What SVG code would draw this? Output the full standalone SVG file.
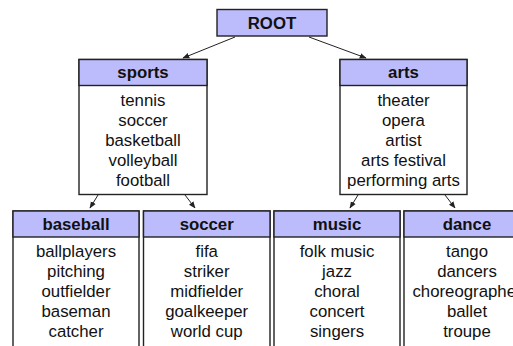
<svg xmlns="http://www.w3.org/2000/svg" width="513" height="346" viewBox="0 0 513 346">
<defs>
<style>
.box{fill:#fff;stroke:#222;stroke-width:1.4}
.hd{fill:#bcbcfc;stroke:#222;stroke-width:1.4}
.h{font-family:"Liberation Sans",Arial,sans-serif;font-size:16.8px;font-weight:bold;text-anchor:middle;fill:#111}
.t{font-family:"Liberation Sans",Arial,sans-serif;font-size:16.8px;text-anchor:middle;fill:#111}
.e{stroke:#222;stroke-width:1;fill:none;marker-end:url(#ah)}
</style>
<marker id="ah" viewBox="0 0 10 10" refX="9" refY="5" markerWidth="7" markerHeight="7" orient="auto" markerUnits="userSpaceOnUse">
<path d="M0,1 L10,5 L0,9 z" fill="#222"/>
</marker>
</defs>
<rect width="513" height="346" fill="#fff"/>
<g id="connectors">
<line class="e" x1="235" y1="37" x2="183" y2="58"/>
<line class="e" x1="309" y1="37" x2="366" y2="58"/>
<line class="e" x1="98" y1="195" x2="90" y2="208"/>
<line class="e" x1="185" y1="195" x2="195" y2="208"/>
<line class="e" x1="358" y1="195" x2="350" y2="208"/>
<line class="e" x1="445" y1="195" x2="455" y2="208"/>
</g>
<g id="root">
<rect class="hd" x="217" y="9.5" width="110" height="26.5"/>
<text class="h" x="272" y="28.5">ROOT</text>
</g>
<g id="sports">
<rect class="box" x="79" y="59.5" width="128" height="135"/>
<rect class="hd" x="79" y="59.5" width="128" height="26"/>
<text class="h" x="143" y="78">sports</text>
<text class="t" x="143" y="105.5">tennis</text>
<text class="t" x="143" y="125.5">soccer</text>
<text class="t" x="143" y="145.5">basketball</text>
<text class="t" x="143" y="165.5">volleyball</text>
<text class="t" x="143" y="185.5">football</text>
</g>
<g id="arts">
<rect class="box" x="340" y="59.5" width="127" height="135"/>
<rect class="hd" x="340" y="59.5" width="127" height="26"/>
<text class="h" x="403.5" y="78">arts</text>
<text class="t" x="403.5" y="105.5">theater</text>
<text class="t" x="403.5" y="125.5">opera</text>
<text class="t" x="403.5" y="145.5">artist</text>
<text class="t" x="403.5" y="165.5">arts festival</text>
<text class="t" x="403.5" y="185.5">performing arts</text>
</g>
<g id="baseball">
<rect class="box" x="13" y="211" width="126" height="150"/>
<rect class="hd" x="13" y="211" width="126" height="26"/>
<text class="h" x="76" y="229.5">baseball</text>
<text class="t" x="76" y="257">ballplayers</text>
<text class="t" x="76" y="277">pitching</text>
<text class="t" x="76" y="297">outfielder</text>
<text class="t" x="76" y="317">baseman</text>
<text class="t" x="76" y="337">catcher</text>
</g>
<g id="soccer">
<rect class="box" x="143.5" y="211" width="126.5" height="150"/>
<rect class="hd" x="143.5" y="211" width="126.5" height="26"/>
<text class="h" x="206.7" y="229.5">soccer</text>
<text class="t" x="206.7" y="257">fifa</text>
<text class="t" x="206.7" y="277">striker</text>
<text class="t" x="206.7" y="297">midfielder</text>
<text class="t" x="206.7" y="317">goalkeeper</text>
<text class="t" x="206.7" y="337">world cup</text>
</g>
<g id="music">
<rect class="box" x="274" y="211" width="126" height="150"/>
<rect class="hd" x="274" y="211" width="126" height="26"/>
<text class="h" x="337" y="229.5">music</text>
<text class="t" x="337" y="257">folk music</text>
<text class="t" x="337" y="277">jazz</text>
<text class="t" x="337" y="297">choral</text>
<text class="t" x="337" y="317">concert</text>
<text class="t" x="337" y="337">singers</text>
</g>
<g id="dance">
<rect class="box" x="404" y="211" width="126" height="150"/>
<rect class="hd" x="404" y="211" width="126" height="26"/>
<text class="h" x="467" y="229.5">dance</text>
<text class="t" x="467" y="257">tango</text>
<text class="t" x="467" y="277">dancers</text>
<text class="t" x="467" y="297">choreographer</text>
<text class="t" x="467" y="317">ballet</text>
<text class="t" x="467" y="337">troupe</text>
</g>
</svg>
